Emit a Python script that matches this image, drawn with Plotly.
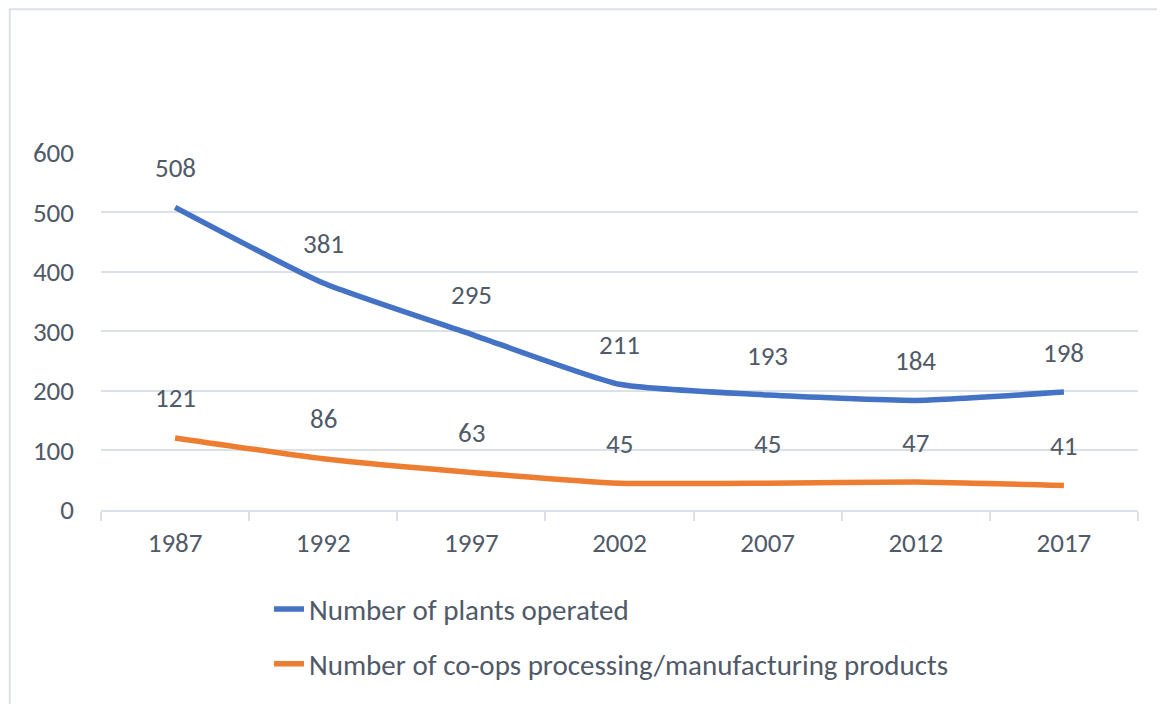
import plotly.graph_objects as go

years = ["1987", "1992", "1997", "2002", "2007", "2012", "2017"]
plants = [508, 381, 295, 211, 193, 184, 198]
coops = [121, 86, 63, 45, 45, 47, 41]
series_names = ["Number of plants operated", "Number of co-ops processing/manufacturing products"]
y_ticks = [0, 100, 200, 300, 400, 500, 600]

FONT = "Carlito, Lato, Liberation Sans, Arial, sans-serif"
TXT = "#505a68"
GRID = "#dbe1e8"
BLUE = "#4472C4"
ORANGE = "#ED7D31"
FS = 27

fig = go.Figure()
for name, vals, col, grp in [(series_names[0], plants, BLUE, "a"), (series_names[1], coops, ORANGE, "b")]:
    fig.add_trace(go.Scatter(
        x=years, y=vals, name=name, mode="lines",
        line=dict(color=col, width=5.5, shape="spline", smoothing=0.5),
        legendgroup=grp,
    ))

for vals in (plants, coops):
    for i, v in enumerate(vals):
        fig.add_annotation(x=i, y=v, xref="x", yref="y", text=str(v), showarrow=False,
                           yshift=40, font=dict(family=FONT, size=FS, color=TXT))

fig.update_layout(
    width=1165, height=704,
    margin=dict(l=93, r=35, t=144, b=202, autoexpand=False),
    paper_bgcolor="white", plot_bgcolor="white",
    font=dict(family=FONT, size=FS, color=TXT),
    showlegend=True,
    legend=dict(orientation="v", x=0.162, xanchor="left", y=-0.206, yanchor="top",
                traceorder="grouped", tracegroupgap=14,
                font=dict(family=FONT, size=29, color=TXT),
                bgcolor="rgba(0,0,0,0)"),
)
fig.add_shape(type="rect", xref="paper", yref="paper",
              x0=-0.088, x1=1.2, y0=-0.7, y1=1.399,
              line=dict(color=GRID, width=2), layer="below")
fig.update_xaxes(type="category", range=[-0.5, 6.5], showgrid=False,
                 showline=True, linecolor=GRID, linewidth=2,
                 ticks="outside", tickson="boundaries", ticklen=9, tickcolor=GRID, tickwidth=2,
                 ticklabelstandoff=8, tickfont=dict(family=FONT, size=FS, color=TXT))
fig.update_yaxes(range=[0, 601], tickvals=y_ticks, showgrid=True, gridcolor=GRID, gridwidth=2,
                 zeroline=False, showline=False, ticks="", ticklabelstandoff=26,
                 tickfont=dict(family=FONT, size=FS, color=TXT))

fig.write_html("out.html")
